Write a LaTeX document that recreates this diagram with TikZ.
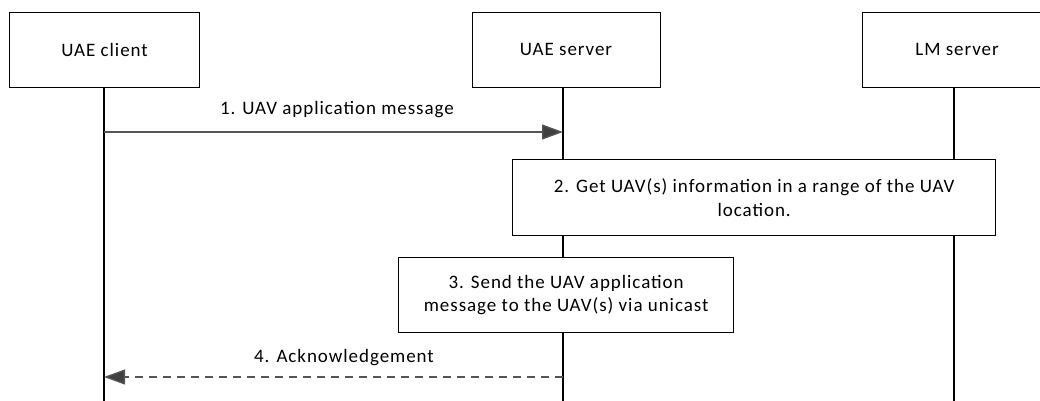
\documentclass[tikz,border=0pt]{standalone}
\usepackage{fontspec}
\setmainfont{Carlito}[LetterSpace=5]
\usetikzlibrary{arrows.meta}
\definecolor{linegray}{HTML}{555555}
\definecolor{headgray}{HTML}{404040}
\begin{document}
\begin{tikzpicture}[x=1pt,y=-1pt,
  font=\fontsize{19}{23.5}\selectfont,
  actor/.style={draw, line width=1.3pt, minimum height=75pt, anchor=north west, inner sep=0pt},
  stepbox/.style={draw, fill=white, line width=1.3pt, anchor=north west, inner sep=0pt, align=center},
  life/.style={line width=1.3pt},
  msg/.style={line width=1.3pt, draw=linegray, -{Triangle[length=21pt,width=15pt,fill=headgray]}},
  reply/.style={msg, dash pattern=on 8pt off 6pt},
  lbl/.style={inner sep=0pt}]
\useasboundingbox (0,0) rectangle (1040,401);
\coordinate (bottom) at (0,401);
% actors
\node[actor, minimum width=190pt] (client) at (9,12) {UAE client};
\node[actor, minimum width=188pt] (server) at (472,12) {};
\node[actor, minimum width=186pt] (lm) at (862,12) {};
\node at (566,49.5) {UAE server};
\node at (957,49.5) {LM server};
% lifelines
\coordinate (cl) at (104,87);
\coordinate (sl) at (563,87);
\coordinate (ll) at (954,87);
\draw[life] (cl) -- (cl |- bottom);
\draw[life] (sl) -- (sl |- bottom);
\draw[life] (ll) -- (ll |- bottom);
% message 1
\coordinate (m1a) at (104,132);
\coordinate (m1b) at (563,132);
\draw[msg] (m1a) -- (m1b);
\node[lbl] (l1) at (337,110) {1. UAV application message};
% step 2
\node[stepbox, minimum width=483pt, minimum height=76pt] (s2) at (512,159)
  {2. Get UAV(s) information in a range of the UAV\\location.};
% step 3
\node[stepbox, minimum width=335pt, minimum height=75pt] (s3) at (398,257)
  {3. Send the UAV application\\message to the UAV(s) via unicast};
% message 4
\coordinate (m4a) at (563,377);
\coordinate (m4b) at (104,377);
\draw[reply] (m4a) -- (m4b);
\node[lbl] (l4) at (344,358) {4. Acknowledgement};
\end{tikzpicture}
\end{document}
